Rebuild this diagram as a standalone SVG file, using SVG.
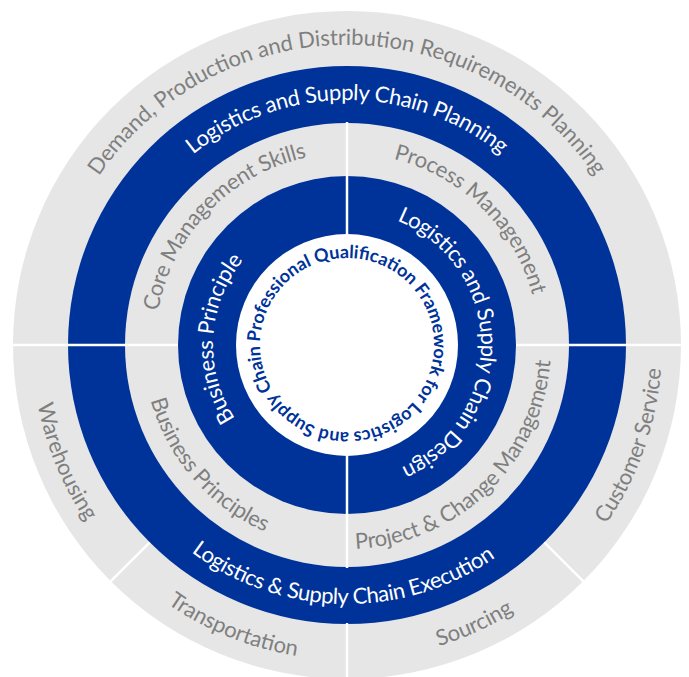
<svg xmlns="http://www.w3.org/2000/svg" width="689" height="677" viewBox="0 0 689 677">
<style>
.t{font-family:Lato,"Liberation Sans",sans-serif;font-size:22px;}
.g{fill:#7f7f7f}
.w{fill:#ffffff}
.title{font-family:Lato,"Liberation Sans",sans-serif;font-size:18px;font-weight:bold;fill:#003399}
.blue{fill:#003399}
.gray{fill:#e6e6e6}
.sep{stroke:#ffffff;stroke-width:2.5;fill:none}
</style>
<defs>
<path id="pA" d="M47.18,334.53 A300,300 0 0 1 646.82,334.53"/>
<path id="pB" d="M102.15,336.45 A245,245 0 0 1 591.85,336.45"/>
<path id="pC" d="M208.89,478.37 A192,192 0 0 1 475.47,202.32"/>
<path id="pD" d="M214.84,205.73 A192,192 0 0 1 488.56,474.71"/>
<path id="pE" d="M335.32,478.49 A134,134 0 0 1 349.34,211.02"/>
<path id="pF" d="M349.34,211.02 A134,134 0 0 1 354.01,478.82"/>
<path id="pG" d="M216.37,58.36 A315,315 0 0 0 457.32,640.05"/>
<path id="pH" d="M51.00,237.26 A315,315 0 0 0 634.77,473.12"/>
<path id="pI" d="M65.10,485.55 A315,315 0 0 0 638.02,224.46"/>
<path id="pJ" d="M252.28,645.42 A315,315 0 0 0 462.45,51.92"/>
<path id="pK" d="M88.04,349.52 A259,259 0 0 0 605.65,358.56"/>
<path id="pL" d="M207.87,195.80 A204,204 0 0 0 475.38,503.54"/>
<path id="pM" d="M205.29,491.75 A204,204 0 0 0 498.60,208.50"/>
<path id="pT" d="M260.03,341.96 A87,87 0 0 1 433.97,348.04 A87,87 0 0 1 260.03,341.96"/>
</defs>

<g id="outer-ring">
<circle class="gray" cx="347" cy="345" r="334"/>
</g>
<g id="blue-ring">
<circle class="blue" cx="347" cy="345" r="279"/>
</g>
<g id="middle-ring">
<circle class="gray" cx="347" cy="345" r="222"/>
</g>
<g id="inner-ring">
<circle class="blue" cx="347" cy="345" r="169"/>
</g>
<g id="centre">
<circle class="w" cx="347" cy="345" r="111"/>
</g>

<g id="separators">
<path class="sep" d="M347,122 V234 M347,456 V568 M347,623 V680 M11,345 H178 M516,345 H683 M149.72,542.28 L110.12,581.88 M544.28,542.28 L583.88,581.88"/>
</g>

<g id="node-demand"><text class="t g"><textPath href="#pA" startOffset="50%" text-anchor="middle" textLength="584" lengthAdjust="spacing">Demand, Production and Distribution Requirements Planning</textPath></text></g>
<g id="node-warehousing"><text class="t g"><textPath href="#pG" startOffset="50%" text-anchor="middle" textLength="128" lengthAdjust="spacing">Warehousing</textPath></text></g>
<g id="node-transportation"><text class="t g"><textPath href="#pH" startOffset="50%" text-anchor="middle" textLength="141" lengthAdjust="spacing">Transportation</textPath></text></g>
<g id="node-sourcing"><text class="t g"><textPath href="#pI" startOffset="50%" text-anchor="middle" textLength="83" lengthAdjust="spacing">Sourcing</textPath></text></g>
<g id="node-customer-service"><text class="t g"><textPath href="#pJ" startOffset="50%" text-anchor="middle" textLength="167" lengthAdjust="spacing">Customer Service</textPath></text></g>

<g id="node-planning"><text class="t w"><textPath href="#pB" startOffset="50%" text-anchor="middle" textLength="333" lengthAdjust="spacing">Logistics and Supply Chain Planning</textPath></text></g>
<g id="node-execution"><text class="t w"><textPath href="#pK" startOffset="50%" text-anchor="middle" textLength="325" lengthAdjust="spacing">Logistics &amp; Supply Chain Execution</textPath></text></g>

<g id="node-core-management"><text class="t g"><textPath href="#pC" startOffset="50%" text-anchor="middle" textLength="227" lengthAdjust="spacing">Core Management Skills</textPath></text></g>
<g id="node-process-management"><text class="t g"><textPath href="#pD" startOffset="50%" text-anchor="middle" textLength="204" lengthAdjust="spacing">Process Management</textPath></text></g>
<g id="node-business-principles"><text class="t g"><textPath href="#pL" startOffset="50%" text-anchor="middle" textLength="180" lengthAdjust="spacing">Business Principles</textPath></text></g>
<g id="node-project-change"><text class="t g"><textPath href="#pM" startOffset="50%" text-anchor="middle" textLength="296" lengthAdjust="spacing">Project &amp; Change Management</textPath></text></g>

<g id="node-business-principle"><text class="t w"><textPath href="#pE" startOffset="50%" text-anchor="middle" textLength="170" lengthAdjust="spacing">Business Principle</textPath></text></g>
<g id="node-design"><text class="t w"><textPath href="#pF" startOffset="50%" text-anchor="middle" textLength="314" lengthAdjust="spacing">Logistics and Supply Chain Design</textPath></text></g>

<g id="node-title"><text class="title"><textPath href="#pT" startOffset="0" textLength="542" lengthAdjust="spacing">Professional Qualification Framework for Logistics and Supply Chain</textPath></text></g>
</svg>
